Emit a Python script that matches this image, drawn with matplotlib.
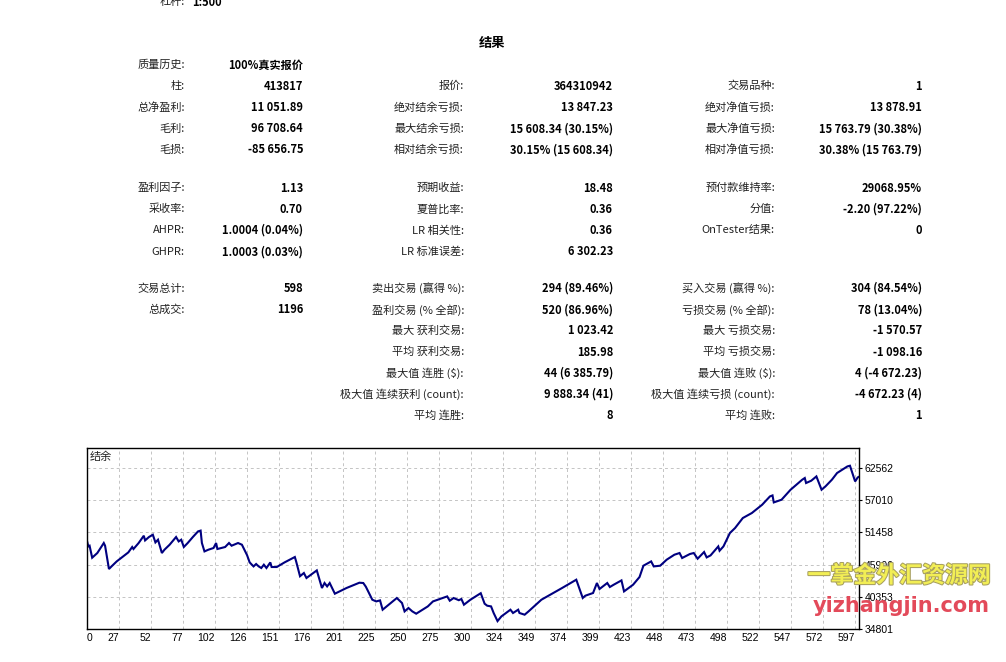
import numpy as np
import matplotlib
matplotlib.use("Agg")
import matplotlib.pyplot as plt
import matplotlib.patheffects as pe

plt.rcParams['font.family'] = ['Noto Sans CJK SC', 'DejaVu Sans']

W, H = 1006, 662

# ---- report text ----
leverage_label = '杠杆:'
leverage_value = '1:500'
report_title = '结果'

# each row: label1, value1, label2, value2, label3, value3
section_a = [
    ('质量历史:', '100%真实报价', '', '', '', ''),
    ('柱:', '413817', '报价:', '364310942', '交易品种:', '1'),
    ('总净盈利:', '11 051.89', '绝对结余亏损:', '13 847.23', '绝对净值亏损:', '13 878.91'),
    ('毛利:', '96 708.64', '最大结余亏损:', '15 608.34 (30.15%)', '最大净值亏损:', '15 763.79 (30.38%)'),
    ('毛损:', '-85 656.75', '相对结余亏损:', '30.15% (15 608.34)', '相对净值亏损:', '30.38% (15 763.79)'),
]
section_b = [
    ('盈利因子:', '1.13', '预期收益:', '18.48', '预付款维持率:', '29068.95%'),
    ('采收率:', '0.70', '夏普比率:', '0.36', '分值:', '-2.20 (97.22%)'),
    ('AHPR:', '1.0004 (0.04%)', 'LR 相关性:', '0.36', 'OnTester结果:', '0'),
    ('GHPR:', '1.0003 (0.03%)', 'LR 标准误差:', '6 302.23', '', ''),
]
section_c = [
    ('交易总计:', '598', '卖出交易 (赢得 %):', '294 (89.46%)', '买入交易 (赢得 %):', '304 (84.54%)'),
    ('总成交:', '1196', '盈利交易 (% 全部):', '520 (86.96%)', '亏损交易 (% 全部):', '78 (13.04%)'),
    ('', '', '最大 获利交易:', '1 023.42', '最大 亏损交易:', '-1 570.57'),
    ('', '', '平均 获利交易:', '185.98', '平均 亏损交易:', '-1 098.16'),
    ('', '', '最大值 连胜 ($):', '44 (6 385.79)', '最大值 连败 ($):', '4 (-4 672.23)'),
    ('', '', '极大值 连续获利 (count):', '9 888.34 (41)', '极大值 连续亏损 (count):', '-4 672.23 (4)'),
    ('', '', '平均 连胜:', '8', '平均 连败:', '1'),
]

# ---- balance curve (trade number, balance) ----
trade_no = [0, 1, 2, 4, 8, 13, 14, 17, 19, 23, 28, 32, 35, 36, 40, 44, 45, 48,
            51, 53, 55, 58, 60, 64, 69, 71, 73, 75, 78, 82, 86, 88, 89, 91, 94,
            98, 100, 101, 107, 110, 112, 117, 120, 124, 126, 129, 131, 133, 135,
            137, 139, 142, 143, 147, 153, 161, 162, 165, 168, 170, 178, 182, 184,
            186, 188, 192, 201, 211, 214, 216, 221, 224, 227, 229, 240, 244, 246,
            249, 252, 255, 264, 268, 279, 281, 284, 288, 290, 292, 297, 305, 308,
            310, 313, 315, 318, 321, 328, 330, 334, 335, 339, 342, 352, 368, 379,
            384, 386, 392, 395, 397, 403, 405, 408, 414, 416, 423, 428, 431, 437,
            439, 444, 449, 455, 459, 461, 467, 470, 473, 478, 480, 483, 489, 490,
            493, 498, 502, 508, 515, 523, 529, 531, 532, 538, 545, 554, 556, 557,
            561, 565, 569, 572, 577, 581, 589, 591, 595, 597, 598]
balance = [50000, 49041, 49162, 47093, 47903, 49627, 49162, 45145, 45593, 46455,
           47317, 48007, 48938, 48593, 49627, 50886, 50076, 50662, 51058, 49731,
           50196, 47903, 48472, 49334, 50662, 49903, 50196, 48938, 49627, 50662,
           51627, 51767, 49627, 48179, 48472, 48765, 49627, 48593, 48938, 49627,
           49162, 49627, 49334, 47524, 46283, 45593, 46007, 45593, 45317, 45886,
           45317, 46283, 45490, 45490, 46283, 47214, 46455, 43904, 44455, 43593,
           44904, 41869, 42731, 42145, 42731, 40887, 41869, 42783, 42731, 42093,
           39852, 39559, 39732, 38128, 40145, 39283, 37835, 38421, 37835, 37439,
           38697, 39559, 40421, 39680, 40145, 39766, 39973, 38990, 39852, 40973,
           39163, 38818, 38697, 37559, 36159, 36973, 38128, 37559, 38128, 37559,
           37266, 37835, 39852, 41869, 43300, 40145, 40542, 41007, 42731, 41697,
           42731, 42042, 42438, 43180, 41283, 42438, 43766, 45714, 46455, 45593,
           45714, 46748, 47610, 47903, 47041, 47731, 47903, 46921, 48076, 47145,
           47490, 49041, 48300, 49041, 51351, 52213, 53937, 54799, 56230, 57661,
           57834, 56627, 57092, 58816, 60540, 60833, 59971, 60368, 61109, 58816,
           59385, 60540, 61695, 62833, 62954, 60247, 60937, 61052]

x_tick_labels = ['0', '27', '52', '77', '102', '126', '151', '176', '201', '225',
                 '250', '275', '300', '324', '349', '374', '399', '423', '448',
                 '473', '498', '522', '547', '572', '597']
y_ticks = [34801, 40353, 45906, 51458, 57010, 62562]


def fx(x):
    return x / W


def fy(y):
    return 1 - y / H


fig = plt.figure(figsize=(W / 100, H / 100), dpi=100)

# header
fig.text(fx(185), fy(2), leverage_label, ha='right', va='center', fontsize=8, color='#222222')
fig.text(fx(192), fy(2), leverage_value, ha='left', va='center', fontsize=8, fontweight='bold')
fig.text(fx(492), fy(43), report_title, ha='center', va='center', fontsize=9.5, fontweight='bold')

col_right = [185, 303, 464, 613, 775, 922]
row_step = 21.2
for start_y, rows in [(65, section_a), (188, section_b), (288.5, section_c)]:
    for i, row in enumerate(rows):
        y = start_y + i * row_step
        for j, txt in enumerate(row):
            if not txt:
                continue
            if j % 2 == 0:
                fig.text(fx(col_right[j]), fy(y), txt, ha='right', va='center',
                         fontsize=8, color='#222222')
            else:
                fig.text(fx(col_right[j]), fy(y), txt, ha='right', va='center',
                         fontsize=8, fontweight='bold', color='black')

# ---- balance chart ----
ax = fig.add_axes([fx(87), fy(629), 772 / W, 181 / H])
ax.plot(trade_no, balance, color='#000080', lw=1.5, solid_joinstyle='miter')
ax.set_xlim(0, 598)
ax.set_ylim(34801, 66010)

step = 598 * 32 / 772
ax.set_xticks(np.arange(len(x_tick_labels)) * step)
ax.set_xticklabels(x_tick_labels, fontsize=7.5, family='Liberation Sans', ha='right')
ax.get_xticklabels()[0].set_ha('left')
ax.set_yticks(y_ticks)
ax.set_yticklabels([str(v) for v in y_ticks], fontsize=7.5, family='Liberation Sans')
ax.yaxis.tick_right()
ax.tick_params(axis='x', length=0, pad=3)
ax.tick_params(axis='y', length=2, pad=2)
ax.grid(True, color='#c4c4c4', linestyle=(0, (3, 3)), lw=0.7)
ax.set_axisbelow(True)
for s in ax.spines.values():
    s.set_color('black')
    s.set_linewidth(1)

fig.text(fx(90), fy(457), '结余', ha='left', va='center', fontsize=8, color='#222222')

# watermark
fig.text(fx(899), fy(576), '一掌金外汇资源网', ha='center', va='center', fontsize=16.5,
         fontweight='bold', color='#f2ee55',
         path_effects=[pe.withStroke(linewidth=1.5, foreground='#a8a060')])
fig.text(fx(901), fy(606), 'yizhangjin.com', ha='center', va='center', fontsize=15,
         fontweight='bold', family='DejaVu Sans', color='#e34a5a')

fig.savefig('out.png', dpi=100)
